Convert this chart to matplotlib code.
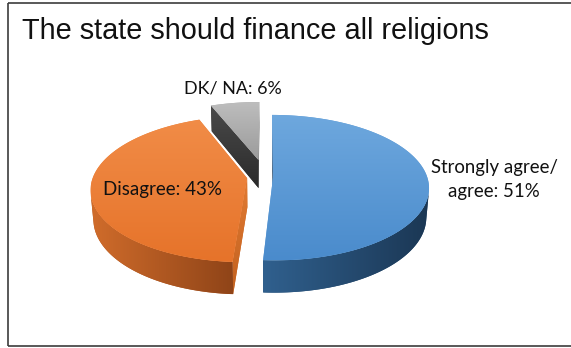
import numpy as np
import matplotlib
matplotlib.use("Agg")
import matplotlib.pyplot as plt
from matplotlib.patches import Polygon
from matplotlib.colors import to_rgb

# ---------------- data ----------------
title = "The state should finance all religions"
categories = ["Strongly agree/\nagree", "Disagree", "DK/ NA"]
values = [51, 43, 6]

# ---------------- style / layout ----------------
W, H = 571, 348
explode = [0.05, 0.12, 0.25]
top_colors = [("#6ea8de", "#4a8bcc"), ("#f18c47", "#e6732a"), ("#bdbdbd", "#9b9b9b")]
side_colors = [("#30608e", "#1b3754"), ("#d06c2b", "#8f4418"), ("#555555", "#333333")]
radial_colors = [("#30608e", "#1b3754"), ("#e27b33", "#c2611f"), ("#4a4a4a", "#2b2b2b")]
theta = np.radians(27.5)
dist = 6.0
S = 154.0
X0, Y0 = 265.4, 176.8
thick = 0.215
# (x, first baseline, ha, target width of widest line)
label_pos = [(494, 173, "center", 127), (103, 195, "left", 119), (184, 94, "left", 97)]
line_gap = 24
label_font = ["Lato", "DejaVu Sans"]
title_font = ["Liberation Sans", "DejaVu Sans"]

fig = plt.figure(figsize=(W / 100, H / 100), dpi=100)
ax = fig.add_axes([0, 0, 1, 1])
ax.set_xlim(0, W)
ax.set_ylim(H, 0)
ax.axis("off")

cosT, sinT = np.cos(theta), np.sin(theta)
cam = np.array([0.0, -dist * cosT, dist * sinT])


def proj(X, Y, Z):
    X = np.asarray(X, float)
    Y = np.asarray(Y, float)
    Z = np.asarray(Z, float) * np.ones_like(X)
    depth = dist + Y * cosT - Z * sinT
    p = dist / depth
    return X0 + S * X * p, Y0 - S * (Y * sinT + Z * cosT) * p


def grad_fill(xs, ys, c1, c2, axis, z):
    xs = np.asarray(xs); ys = np.asarray(ys)
    verts = np.column_stack([xs, ys])
    c1 = np.array(to_rgb(c1)); c2 = np.array(to_rgb(c2))
    mid = (c1 + c2) / 2
    ax.add_patch(Polygon(verts, closed=True, facecolor=mid, edgecolor="none", zorder=z))
    n = 256
    t = np.linspace(0, 1, n)
    g = c1[None, :] * (1 - t)[:, None] + c2[None, :] * t[:, None]
    if axis == "x":
        arr = np.repeat(g[None, :, :], 2, axis=0)
    else:
        arr = np.repeat(g[:, None, :], 2, axis=1)
    im = ax.imshow(arr, extent=(xs.min(), xs.max(), ys.max(), ys.min()), origin="upper",
                   interpolation="bilinear", zorder=z + 0.01, aspect="auto")
    im.set_clip_path(Polygon(verts, closed=True, transform=ax.transData))


total = float(sum(values))
bounds = np.concatenate([[0.0], np.cumsum(values) / total * 2 * np.pi])
slices = []
for i in range(len(values)):
    a0, a1 = bounds[i], bounds[i + 1]
    m = (a0 + a1) / 2
    ex, ey = explode[i] * np.sin(m), explode[i] * np.cos(m)
    slices.append((i, a0, a1, ex, ey))

# paint far slices first
order = sorted(slices, key=lambda s: -s[4])
z = 2
for (i, a0, a1, ex, ey) in order:
    ang = np.linspace(a0, a1, 240)
    rx = ex + np.sin(ang)
    ry = ey + np.cos(ang)
    # radial faces
    for a, sign in ((a0, -1), (a1, 1)):
        nvec = np.array([sign * np.cos(a), -sign * np.sin(a), 0.0])
        pm = np.array([ex + 0.5 * np.sin(a), ey + 0.5 * np.cos(a), -thick / 2])
        if np.dot(nvec, cam - pm) > 0:
            X = [ex, ex + np.sin(a), ex + np.sin(a), ex]
            Y = [ey, ey + np.cos(a), ey + np.cos(a), ey]
            Zs = [0, 0, -thick, -thick]
            px, py = proj(X, Y, Zs)
            grad_fill(px, py, radial_colors[i][0], radial_colors[i][1], "y", z)
            z += 1
    # outer side
    vis = (np.sin(ang) * (cam[0] - rx) + np.cos(ang) * (cam[1] - ry)) > 0
    idx = np.where(vis)[0]
    if len(idx) > 1:
        runs = np.split(idx, np.where(np.diff(idx) != 1)[0] + 1)
        for r in runs:
            if len(r) < 2:
                continue
            tx, ty = proj(rx[r], ry[r], 0.0)
            bx, by = proj(rx[r], ry[r], -thick)
            px = np.concatenate([tx, bx[::-1]])
            py = np.concatenate([ty, by[::-1]])
            grad_fill(px, py, side_colors[i][0], side_colors[i][1], "x", z)
            z += 1
    # top face
    tx, ty = proj(np.concatenate([[ex], rx]), np.concatenate([[ey], ry]), 0.0)
    grad_fill(tx, ty, top_colors[i][0], top_colors[i][1], "y", z)
    z += 1

renderer = fig.canvas.get_renderer()


def fitted_text(x, y, s, width, ha, family, base=10):
    t = ax.text(x, y, s, fontsize=base, family=family, ha=ha, va="baseline",
                color="#111111", zorder=50)
    w = t.get_window_extent(renderer).width
    t.set_fontsize(base * width / w)
    return t


for i, cat in enumerate(categories):
    lab = f"{cat}: {values[i]}%"
    lines = lab.split("\n")
    x, yb, ha, width = label_pos[i]
    # size from widest line
    probe = ax.text(0, 0, max(lines, key=len), fontsize=10, family=label_font)
    w = probe.get_window_extent(renderer).width
    probe.remove()
    fs = 10 * width / w
    for k, ln in enumerate(lines):
        ax.text(x, yb + k * line_gap, ln, fontsize=fs, family=label_font, ha=ha,
                va="baseline", color="#111111", zorder=50)

fitted_text(22, 39, title, 470, "left", title_font)

# frame (right side lies outside the picture)
fc = "#3c3c3c"
ax.plot([8, 8], [3, 346], color=fc, lw=1.2, solid_capstyle="butt", zorder=60)
ax.plot([8, W], [3, 3], color=fc, lw=1.2, solid_capstyle="butt", zorder=60)
ax.plot([8, W], [346, 346], color=fc, lw=1.2, solid_capstyle="butt", zorder=60)

fig.savefig("out.png", dpi=100)
